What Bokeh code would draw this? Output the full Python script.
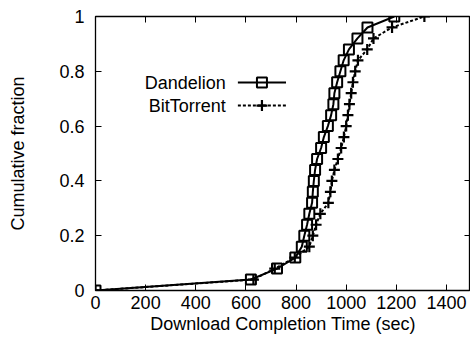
from bokeh.plotting import figure
from bokeh.models import LinearAxis, FixedTicker, Range1d, Label
from bokeh.embed import file_html
from bokeh.resources import INLINE

# ---- data ----
fraction = [0.00, 0.04, 0.08, 0.12, 0.16, 0.20, 0.24, 0.28, 0.32, 0.36, 0.40, 0.44, 0.48,
            0.52, 0.56, 0.60, 0.64, 0.68, 0.72, 0.76, 0.80, 0.84, 0.88, 0.92, 0.96, 1.00]
dandelion_t = [0, 620, 724, 797, 823, 833, 844, 853, 864, 867, 871, 876, 884,
               900, 911, 927, 940, 949, 953, 964, 977, 990, 1011, 1045, 1085, 1192]
bittorrent_t = [0, 630, 715, 795, 853, 867, 880, 897, 929, 937, 943, 953, 967,
                980, 991, 1000, 1007, 1013, 1020, 1027, 1036, 1047, 1084, 1109, 1183, 1312]
x_ticks = [0, 200, 400, 600, 800, 1000, 1200, 1400]
y_ticks = [0, 0.2, 0.4, 0.6, 0.8, 1.0]
y_tick_labels = ["0", "0.2", "0.4", "0.6", "0.8", "1"]
series_names = ["Dandelion", "BitTorrent"]

FONT = "Liberation Sans"
FS = "18px"

p = figure(width=470, height=345, output_backend="svg", toolbar_location=None,
           x_range=Range1d(0, 1496), y_range=Range1d(0, 1),
           min_border_left=95, min_border_right=0, min_border_top=16, min_border_bottom=55)
p.background_fill_color = "white"
p.border_fill_color = "white"
p.grid.visible = False
p.outline_line_color = "black"
p.outline_line_width = 1.3

# mirror axes (ticks only)
top = LinearAxis()
right = LinearAxis()
p.add_layout(top, "above")
p.add_layout(right, "right")

for ax in p.xaxis:
    ax.ticker = FixedTicker(ticks=x_ticks)
for ax in p.yaxis:
    ax.ticker = FixedTicker(ticks=y_ticks)
    ax.major_label_overrides = {t: l for t, l in zip(y_ticks, y_tick_labels)}

for ax in p.axis:
    ax.major_tick_in = 6
    ax.major_tick_out = 0
    ax.minor_tick_in = 0
    ax.minor_tick_out = 0
    ax.axis_line_color = None
    ax.major_tick_line_color = "black"
    ax.major_tick_line_width = 1
    ax.major_label_text_font = FONT
    ax.major_label_text_font_size = FS
    ax.major_label_text_color = "black"
    ax.axis_label_text_font = FONT
    ax.axis_label_text_font_size = FS
    ax.axis_label_text_font_style = "normal"
    ax.axis_label_text_color = "black"

for ax in (top, right):
    ax.major_label_text_font_size = "1px"
    ax.major_label_text_color = None
    ax.major_label_standoff = 0

bottom = p.below[0]
left = p.left[0]
bottom.axis_label = "Download Completion Time (sec)"
left.axis_label = "Cumulative fraction"
bottom.major_label_standoff = 5
left.major_label_standoff = 11
bottom.axis_label_standoff = 2
left.axis_label_standoff = 28

# series
p.line(dandelion_t, fraction, line_color="black", line_width=2)
p.scatter(dandelion_t, fraction, marker="square", size=10, fill_color=None,
          line_color="black", line_width=2)
p.line(bittorrent_t, fraction, line_color="black", line_width=2, line_dash="3 2")
p.scatter(bittorrent_t, fraction, marker="cross", size=11,
          line_color="black", line_width=2.2)

# legend (gnuplot style: label left of sample)
leg_text_x = 520
leg_x0, leg_xm, leg_x1 = 568, 664, 760
leg_y = [0.759, 0.675]
p.line([leg_x0, leg_x1], [leg_y[0], leg_y[0]], line_color="black", line_width=2)
p.scatter([leg_xm], [leg_y[0]], marker="square", size=10, fill_color=None,
          line_color="black", line_width=2)
p.line([leg_x0, leg_x1], [leg_y[1], leg_y[1]], line_color="black", line_width=2, line_dash="3 2")
p.scatter([leg_xm], [leg_y[1]], marker="cross", size=11, line_color="black", line_width=2.2)
for name, yy in zip(series_names, leg_y):
    p.add_layout(Label(x=leg_text_x, y=yy, text=name, text_align="right",
                       text_baseline="middle", text_font=FONT, text_font_size=FS,
                       text_color="black"))

open("out.html", "w").write(file_html(p, INLINE))
